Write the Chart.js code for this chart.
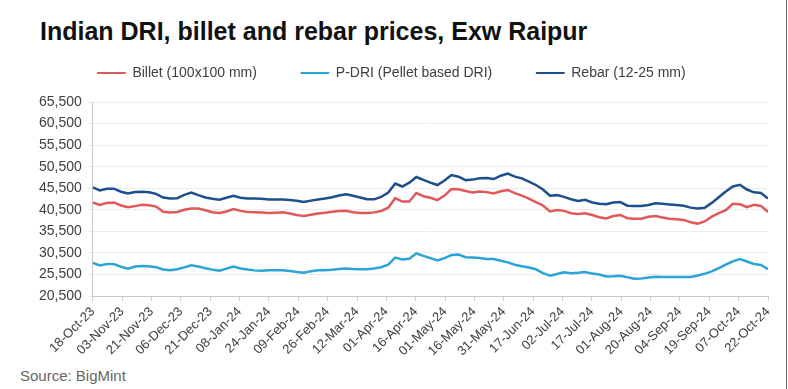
<!DOCTYPE html>
<html>
<head>
<meta charset="utf-8">
<script src="https://cdn.jsdelivr.net/npm/chart.js@4"></script>
<style>
  html, body { margin: 0; padding: 0; background: #fff; }
  body { width: 788px; height: 389px; position: relative; overflow: hidden; font-family: "Liberation Sans", Arial, sans-serif; }
  #title { position: absolute; left: 40px; top: 17px; font-size: 25px; font-weight: bold; color: #111; }
  #source { position: absolute; left: 20px; top: 367px; font-size: 15px; color: #666; }
  #wrap { position: absolute; left: 0; top: 22px; width: 786px; height: 340px; }
  #edge { position: absolute; right: 1px; top: 0; width: 1px; height: 389px; background: #666; }
</style>
</head>
<body>
<div id="title">Indian DRI, billet and rebar prices, Exw Raipur</div>
<div id="wrap"><canvas id="myChart"></canvas></div>
<div id="source">Source: BigMint</div>
<div id="edge"></div>
<script>
// Tick labels on the x axis (one every 13 trading days)
const dateLabels = ['18-Oct-23', '03-Nov-23', '21-Nov-23', '06-Dec-23', '21-Dec-23', '08-Jan-24',
    '24-Jan-24', '09-Feb-24', '26-Feb-24', '12-Mar-24', '01-Apr-24', '16-Apr-24', '01-May-24',
    '16-May-24', '31-May-24', '17-Jun-24', '02-Jul-24', '17-Jul-24', '01-Aug-24', '20-Aug-24',
    '04-Sep-24', '19-Sep-24', '07-Oct-24', '22-Oct-24'];

// Prices, INR/t at evenly spaced points
const billet = [42200, 41650, 42100, 42200, 41500, 41100, 41350, 41650, 41550, 41250,
    40050, 39850, 40000, 40500, 40800, 40800, 40400, 39950, 39750, 40100,
    40660, 40250, 40000, 39950, 39870, 39740, 39830, 39950, 39650, 39300,
    39060, 39350, 39620, 39840, 40050, 40200, 40280, 39950, 39780, 39750,
    39900, 40220, 41000, 43200, 42400, 42400, 44400, 43650, 43300, 42750,
    43800, 45300, 45250, 44860, 44500, 44750, 44600, 44300, 44800, 45100,
    44350, 43800, 43100, 42300, 41500, 40100, 40450, 40250, 39700, 39500,
    39700, 39300, 38760, 38500, 39050, 39300, 38550, 38420, 38420, 38900,
    39050, 38700, 38410, 38320, 38150, 37600, 37300, 37800, 38900, 39750,
    40400, 41900, 41800, 41100, 41650, 41400, 40000];

const pDri = [28200, 27600, 27950, 27900, 27300, 26850, 27350, 27450, 27420, 27200,
    26650, 26500, 26700, 27150, 27650, 27350, 26950, 26620, 26350, 26850,
    27350, 26900, 26640, 26450, 26380, 26490, 26500, 26500, 26300, 26080,
    25900, 26250, 26500, 26500, 26580, 26750, 26860, 26780, 26740, 26740,
    26870, 27180, 27800, 29400, 29000, 29150, 30400, 29800, 29300, 28750,
    29300, 30000, 30100, 29500, 29450, 29300, 29070, 29070, 28700, 28300,
    27750, 27400, 27100, 26700, 25800, 25200, 25600, 26000, 25800, 25900,
    26050, 25700, 25500, 25050, 25100, 25200, 24850, 24500, 24550, 24800,
    24950, 24940, 24940, 24940, 24940, 24940, 25280, 25650, 26200, 27000,
    27800, 28550, 29050, 28500, 27950, 27700, 26700];

const rebar = [45700, 45000, 45400, 45400, 44700, 44300, 44600, 44700, 44550, 44200,
    43350, 43100, 43200, 43950, 44500, 43900, 43350, 43050, 42850, 43300,
    43750, 43300, 43130, 43100, 43050, 42870, 42860, 42860, 42770, 42600,
    42330, 42630, 42900, 43100, 43430, 43830, 44080, 43770, 43370, 42950,
    42930, 43480, 44510, 46580, 45900, 46800, 48100, 47450, 46800, 46250,
    47300, 48550, 48170, 47370, 47500, 47800, 47880, 47630, 48400, 48900,
    48200, 47800, 47050, 46250, 45200, 43750, 43900, 43500, 42950, 42550,
    42800, 42200, 41900, 41800, 42200, 42300, 41450, 41360, 41360, 41600,
    42000, 41880, 41740, 41620, 41450, 41000, 40800, 40990, 42100, 43400,
    44750, 45900, 46300, 45200, 44550, 44400, 43100];

// y axis ticks
const yMin = 20500;
const yMax = 65500;
const yStep = 5000;

// spread the points evenly between the first and last date label
function toPoints(values) {
    const span = dateLabels.length - 1;
    return values.map((v, i) => ({ x: i * span / (values.length - 1), y: v }));
}

// extra room between the legend and the plot
const legendGap = {
    id: 'legendGap',
    beforeInit(chart) {
        const fit = chart.legend.fit;
        chart.legend.fit = function () {
            fit.bind(chart.legend)();
            this.height += 12;
        };
    }
};

const textColor = '#404040';
const fontFamily = '"Liberation Sans", Arial, sans-serif';

const ctx = document.getElementById('myChart').getContext('2d');
const myChart = new Chart(ctx, {
    type: 'line',
    data: {
        datasets: [
            { label: 'Billet (100x100 mm)', data: toPoints(billet), borderColor: '#e0585a', backgroundColor: '#e0585a' },
            { label: 'P-DRI (Pellet based DRI)', data: toPoints(pDri), borderColor: '#2aa5d5', backgroundColor: '#2aa5d5' },
            { label: 'Rebar (12-25 mm)', data: toPoints(rebar), borderColor: '#1f4e8c', backgroundColor: '#1f4e8c' }
        ]
    },
    plugins: [legendGap],
    options: {
        responsive: true,
        maintainAspectRatio: false,
        animation: false,
        layout: { padding: { left: 15, right: 18, top: 0, bottom: 0 } },
        elements: {
            point: { radius: 0 },
            line: { borderWidth: 2.5, tension: 0 }
        },
        plugins: {
            legend: {
                position: 'top',
                labels: {
                    color: textColor,
                    font: { family: fontFamily, size: 14 },
                    boxWidth: 28,
                    boxHeight: 1,
                    padding: 44,
                    // thinner line markers than the series lines
                    generateLabels: chart => Chart.defaults.plugins.legend.labels.generateLabels(chart)
                        .map(item => ({ ...item, lineWidth: 1 }))
                }
            },
            tooltip: { enabled: false }
        },
        scales: {
            x: {
                type: 'linear',
                min: 0,
                max: dateLabels.length - 1,
                grid: { display: true, drawOnChartArea: false, color: '#d0d0d0', tickLength: 5 },
                border: { color: '#c8c8c8' },
                ticks: {
                    stepSize: 1,
                    autoSkip: false,
                    minRotation: 45,
                    maxRotation: 45,
                    color: textColor,
                    font: { family: fontFamily, size: 13 },
                    callback: value => dateLabels[value]
                }
            },
            y: {
                min: yMin,
                max: yMax,
                grid: { color: '#ececec', tickLength: 5 },
                border: { color: '#c8c8c8' },
                afterFit: scale => { scale.width += 18; },
                ticks: {
                    stepSize: yStep,
                    autoSkip: false,
                    color: textColor,
                    padding: 6,
                    font: { family: fontFamily, size: 14 },
                    callback: value => value.toLocaleString('en-US')
                }
            }
        }
    }
});
</script>
</body>
</html>
